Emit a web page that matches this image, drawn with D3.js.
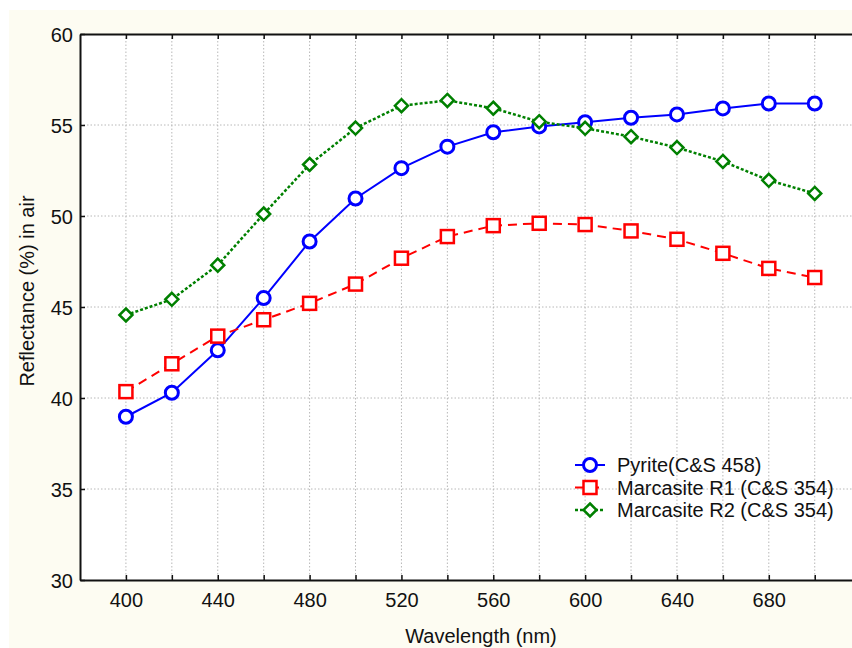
<!DOCTYPE html>
<html>
<head>
<meta charset="utf-8">
<script src="https://cdn.jsdelivr.net/npm/d3@7"></script>
<style>
  body { margin: 0; background: #ffffff; }
  svg { display: block; font-family: "Liberation Sans", Arial, Helvetica, sans-serif; }
</style>
</head>
<body>
<div id="area"></div>
<script>
// wavelengths (nm)
var wavelengths = [400, 420, 440, 460, 480, 500, 520, 540, 560, 580, 600, 620, 640, 660, 680, 700];

// reflectance in air (%)
var pyrite = [38.97, 40.29, 42.62, 45.49, 48.6, 50.96, 52.63, 53.81, 54.6, 54.92, 55.15, 55.4, 55.58, 55.91, 56.18, 56.18];
var marcasiteR1 = [40.35, 41.88, 43.4, 44.3, 45.2, 46.26, 47.68, 48.87, 49.47, 49.6, 49.53, 49.18, 48.72, 47.95, 47.12, 46.62];
var marcasiteR2 = [44.56, 45.42, 47.3, 50.11, 52.83, 54.83, 56.06, 56.35, 55.92, 55.18, 54.82, 54.36, 53.76, 53.0, 51.96, 51.24];

var seriesNames = ['Pyrite(C&S 458)', 'Marcasite R1 (C&S 354)', 'Marcasite R2 (C&S 354)'];
var xTickLabels = [400, 440, 480, 520, 560, 600, 640, 680];
var yTickLabels = [30, 35, 40, 45, 50, 55, 60];

var width = 852,
    height = 648;

var plotLeft = 80,
    plotTop = 34,
    plotBottom = 580,
    plotRight = 882;   // frame runs past the right edge of the picture

var fontSize = 20;

var x = d3.scaleLinear().domain([380, 729.3]).range([plotLeft, plotRight]);
var y = d3.scaleLinear().domain([30, 60]).range([plotBottom, plotTop]);

var svg = d3.select('#area').append('svg')
    .attr('width', width)
    .attr('height', height);

// cream panel behind the chart
svg.append('rect')
    .attr('x', 9).attr('y', 10)
    .attr('width', width - 9).attr('height', height - 10)
    .attr('fill', '#fdfcf2');

svg.append('rect')
    .attr('x', plotLeft).attr('y', plotTop)
    .attr('width', plotRight - plotLeft).attr('height', plotBottom - plotTop)
    .attr('fill', '#ffffff');

// grid
var gridX = d3.range(400, 721, 20);
svg.append('g').selectAll('line')
    .data(gridX)
    .enter().append('line')
    .attr('x1', function(d) { return x(d); })
    .attr('x2', function(d) { return x(d); })
    .attr('y1', plotTop).attr('y2', plotBottom)
    .attr('stroke', '#b8b8b8')
    .attr('stroke-width', 1)
    .attr('stroke-dasharray', '1.5,2');

svg.append('g').selectAll('line')
    .data(yTickLabels.slice(1, -1))
    .enter().append('line')
    .attr('x1', plotLeft).attr('x2', plotRight)
    .attr('y1', function(d) { return y(d); })
    .attr('y2', function(d) { return y(d); })
    .attr('stroke', '#b8b8b8')
    .attr('stroke-width', 1)
    .attr('stroke-dasharray', '1.5,2');

// axes, ticks pointing inward
var xAxis = d3.axisBottom(x).tickValues(gridX).tickSizeInner(-5).tickSizeOuter(0)
    .tickFormat(function(d) { return xTickLabels.indexOf(d) >= 0 ? d : ''; });
var xAxisTop = d3.axisTop(x).tickValues(gridX).tickSizeInner(-5).tickSizeOuter(0).tickFormat('');
var yAxis = d3.axisLeft(y).tickValues(yTickLabels).tickSizeInner(-5).tickSizeOuter(0);

function styleAxis(g) {
  g.select('.domain').attr('stroke', '#111').attr('stroke-width', 2);
  g.selectAll('.tick line').attr('stroke', '#111').attr('stroke-width', 1.5);
  g.selectAll('.tick text').attr('fill', '#111').style('font-size', fontSize + 'px')
    .style('font-family', '"Liberation Sans", Arial, sans-serif');
}

svg.append('g')
    .attr('transform', 'translate(0,' + plotBottom + ')')
    .call(xAxis)
    .call(styleAxis)
    .call(function(g) { g.selectAll('.tick text').attr('y', 13); });

svg.append('g')
    .attr('transform', 'translate(0,' + plotTop + ')')
    .call(xAxisTop)
    .call(styleAxis);

svg.append('g')
    .attr('transform', 'translate(' + plotLeft + ',0)')
    .call(yAxis)
    .call(styleAxis)
    .call(function(g) { g.selectAll('.tick text').attr('x', -7).attr('dy', '0.36em'); });

// axis titles
svg.append('text')
    .attr('x', 481).attr('y', 643)
    .attr('text-anchor', 'middle')
    .attr('fill', '#111')
    .style('font-size', fontSize + 'px')
    .text('Wavelength (nm)');

svg.append('text')
    .attr('transform', 'translate(34,291) rotate(-90)')
    .attr('text-anchor', 'middle')
    .attr('fill', '#111')
    .style('font-size', fontSize + 'px')
    .text('Reflectance (%) in air');

// series
var series = [
  {name: seriesNames[0], values: pyrite, color: '#0000ff', dash: null, width: 2, marker: 'circle'},
  {name: seriesNames[1], values: marcasiteR1, color: '#ff0000', dash: '9,6', width: 2, marker: 'square'},
  {name: seriesNames[2], values: marcasiteR2, color: '#008000', dash: '3,2', width: 2.5, marker: 'diamond'}
];

var line = d3.line()
    .x(function(d) { return x(d[0]); })
    .y(function(d) { return y(d[1]); });

function drawMarker(g, type, color) {
  if (type == 'circle') {
    g.append('circle').attr('r', 6.5)
      .attr('fill', '#fff').attr('stroke', color).attr('stroke-width', 3);
  } else if (type == 'square') {
    g.append('rect').attr('x', -6.5).attr('y', -6.5).attr('width', 13).attr('height', 13)
      .attr('fill', '#fff').attr('stroke', color).attr('stroke-width', 2.5);
  } else {
    g.append('path').attr('d', 'M0,-6.5L6.5,0L0,6.5L-6.5,0Z')
      .attr('fill', '#fff').attr('stroke', color).attr('stroke-width', 2.5);
  }
}

series.forEach(function(s) {
  var pts = wavelengths.map(function(w, i) { return [w, s.values[i]]; });
  svg.append('path')
      .datum(pts)
      .attr('d', line)
      .attr('fill', 'none')
      .attr('stroke', s.color)
      .attr('stroke-width', s.width)
      .attr('stroke-dasharray', s.dash);
  pts.forEach(function(p) {
    var g = svg.append('g').attr('transform', 'translate(' + x(p[0]) + ',' + y(p[1]) + ')');
    drawMarker(g, s.marker, s.color);
  });
});

// legend
var legend = svg.append('g').attr('transform', 'translate(575,465)');
series.forEach(function(s, i) {
  var row = legend.append('g').attr('transform', 'translate(0,' + (i * 22.5) + ')');
  row.append('line')
      .attr('x1', 0).attr('x2', 30)
      .attr('stroke', s.color)
      .attr('stroke-width', s.width)
      .attr('stroke-dasharray', s.dash);
  drawMarker(row.append('g').attr('transform', 'translate(15,0)'), s.marker, s.color);
  row.append('text')
      .attr('x', 42).attr('dy', '0.36em')
      .attr('fill', '#111')
      .style('font-size', fontSize + 'px')
      .text(s.name);
});
</script>
</body>
</html>
